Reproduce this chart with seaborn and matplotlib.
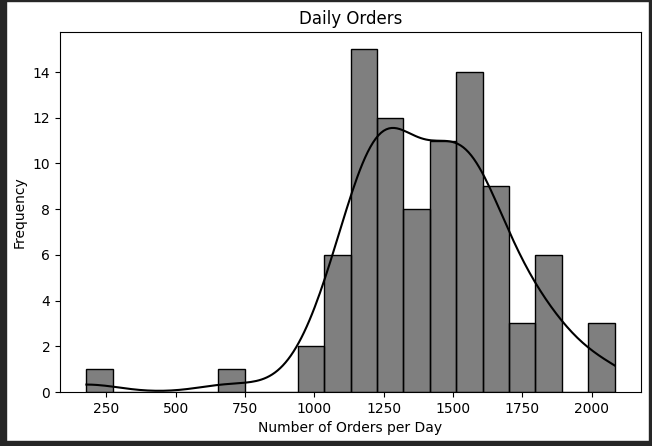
import numpy as np
import pandas as pd
import matplotlib
matplotlib.use("Agg")
import matplotlib.pyplot as plt
from matplotlib.patches import Rectangle
import seaborn as sns

# daily order counts (~95 orders per bin)
orders_low = [178, 702]
orders_1000 = [985, 1020, 1042, 1061, 1078, 1095, 1110, 1124]
orders_1150 = [1150, 1160, 1168, 1175, 1181, 1187, 1192, 1197, 1202, 1206,
               1210, 1214, 1218, 1221, 1224]
orders_1270 = [1240, 1250, 1258, 1265, 1272, 1278, 1284, 1290, 1296, 1302,
               1309, 1316]
orders_1370 = [1322, 1328, 1335, 1342, 1350, 1358, 1368, 1385]
orders_1460 = [1430, 1442, 1452, 1461, 1469, 1476, 1483, 1490, 1496, 1502, 1508]
orders_1560 = [1512, 1516, 1521, 1526, 1531, 1536, 1542, 1548, 1554, 1561,
               1568, 1576, 1585, 1596]
orders_1650 = [1611, 1621, 1632, 1642, 1653, 1663, 1674, 1684, 1695]
orders_high = [1718, 1750, 1782, 1803, 1818, 1833, 1848, 1863, 1879,
               2003, 2040, 2082]

df = pd.DataFrame({"orders": orders_low + orders_1000 + orders_1150 + orders_1270
                   + orders_1370 + orders_1460 + orders_1560 + orders_1650
                   + orders_high})

fig = plt.figure(figsize=(6.52, 4.46), dpi=100)
ax = fig.add_axes([60 / 652, 54 / 446, 581 / 652, 360 / 446])

sns.histplot(data=df, x="orders", bins=20, kde=True, color="black",
             alpha=0.5, edgecolor="black", ax=ax)

ax.set_title("Daily Orders", fontsize=12)
ax.set_xlabel("Number of Orders per Day")
ax.set_ylabel("Frequency")
ax.set_xticks([250, 500, 750, 1000, 1250, 1500, 1750, 2000])

# dark screenshot frame around the figure
dark = "#262626"
fig.patches.append(Rectangle((0, 0), 6 / 652, 1, transform=fig.transFigure, color=dark))
fig.patches.append(Rectangle((649 / 652, 0), 3 / 652, 1, transform=fig.transFigure, color=dark))
fig.patches.append(Rectangle((0, 0), 1, 5 / 446, transform=fig.transFigure, color=dark))
fig.patches.append(Rectangle((0, 445 / 446), 1, 1 / 446, transform=fig.transFigure, color=dark))

fig.savefig("out.png", dpi=100)
